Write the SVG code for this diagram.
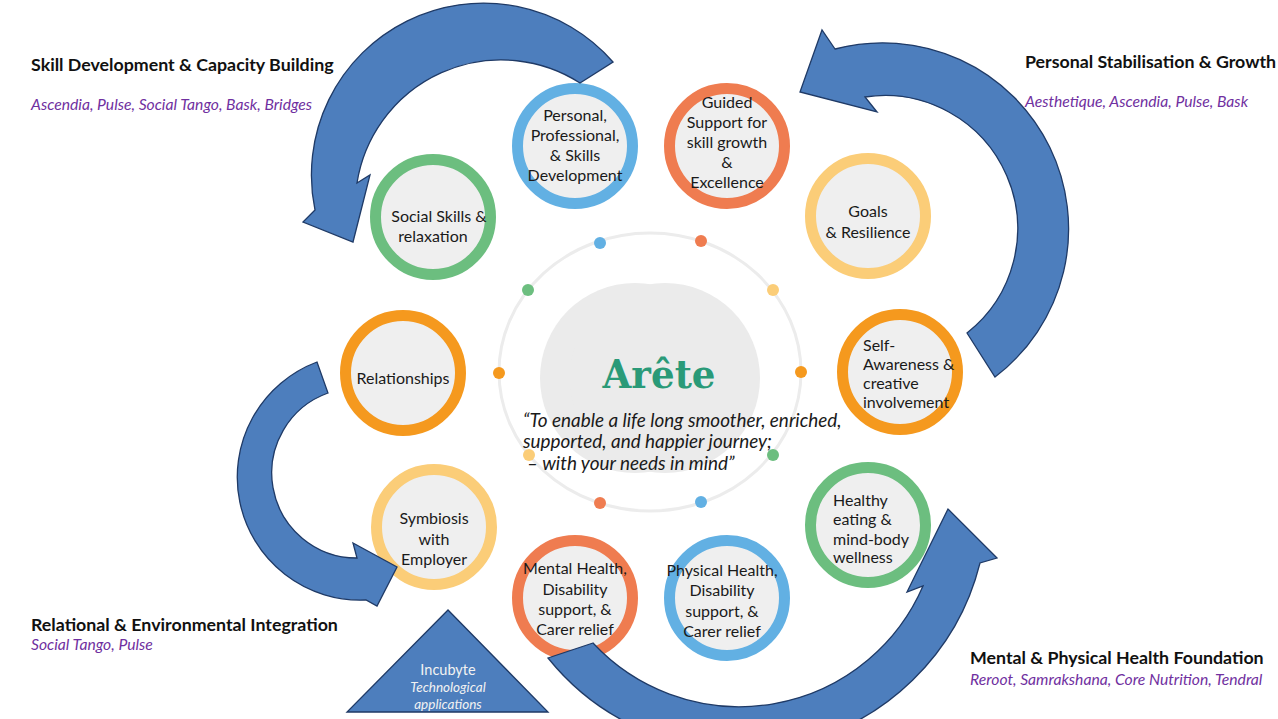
<svg xmlns="http://www.w3.org/2000/svg" width="1278" height="719" viewBox="0 0 1278 719">
<defs>
<style>
.lbl{font-family:Lato,"Open Sans","Liberation Sans",sans-serif;font-size:16px;fill:#1a1a1a;text-anchor:middle}
.lbll{font-family:Lato,"Open Sans","Liberation Sans",sans-serif;font-size:16px;fill:#1a1a1a}
.head{font-family:Lato,"Open Sans","Liberation Sans",sans-serif;font-size:17.8px;font-weight:bold;fill:#111}
.sub{font-family:Lato,"Open Sans","Liberation Sans",sans-serif;font-size:15.7px;font-style:italic;fill:#7030a0}
.quote{font-family:Lato,"Open Sans","Liberation Sans",sans-serif;font-size:18.9px;font-style:italic;fill:#1a1a1a}
.tri{font-family:Lato,"Open Sans","Liberation Sans",sans-serif;fill:#f2f2f2;text-anchor:middle}
.node{fill:#efefef;stroke-width:11}
.blue{stroke:#62b0e3}.red{stroke:#ef7c50}.yel{stroke:#fbcd78}.org{stroke:#f5991e}.grn{stroke:#6cbe7f}
.arrow{fill:#4d7ebd;stroke:#1f3a66;stroke-width:1.3;stroke-linejoin:miter}
</style>
</defs>
<rect width="1278" height="719" fill="#ffffff"/>

<g id="hub">
<ellipse cx="650" cy="372" rx="151" ry="139" fill="none" stroke="#ececec" stroke-width="3"/>
<circle cx="635" cy="378" r="95" fill="#ebebeb"/>
<circle cx="665" cy="378" r="95" fill="#ebebeb"/>
<circle cx="600" cy="243" r="6" fill="#62b0e3"/>
<circle cx="701" cy="241" r="6" fill="#ef7c50"/>
<circle cx="773" cy="290" r="6" fill="#fbcd78"/>
<circle cx="801" cy="372" r="6" fill="#f5991e"/>
<circle cx="773" cy="455" r="6" fill="#6cbe7f"/>
<circle cx="701" cy="502" r="6" fill="#62b0e3"/>
<circle cx="600" cy="503" r="6" fill="#ef7c50"/>
<circle cx="529" cy="455" r="6" fill="#fbcd78"/>
<circle cx="499" cy="373" r="6" fill="#f5991e"/>
<circle cx="528" cy="290" r="6" fill="#6cbe7f"/>
<text x="659" y="388" font-family="'DejaVu Serif','Liberation Serif',serif" font-weight="bold" font-size="40" fill="#2a9a78" text-anchor="middle" textLength="113" lengthAdjust="spacingAndGlyphs">Arête</text>
<text class="quote" x="523" y="427">“To enable a life long smoother, enriched,</text>
<text class="quote" x="523" y="448">supported, and happier journey;</text>
<text class="quote" x="527" y="470"> – with your needs in mind”</text>
</g>

<g id="node-personal">
<circle class="node blue" cx="575" cy="146" r="57.5"/>
<text class="lbl" x="575" y="121">Personal,</text>
<text class="lbl" x="575" y="141">Professional,</text>
<text class="lbl" x="575" y="161">&amp; Skills</text>
<text class="lbl" x="575" y="181">Development</text>
</g>
<g id="node-guided">
<circle class="node red" cx="727" cy="146" r="57.5"/>
<text class="lbl" x="727" y="108">Guided</text>
<text class="lbl" x="727" y="128">Support for</text>
<text class="lbl" x="727" y="148">skill growth</text>
<text class="lbl" x="727" y="168">&amp;</text>
<text class="lbl" x="727" y="188">Excellence</text>
</g>
<g id="node-goals">
<circle class="node yel" cx="868" cy="216" r="57.5"/>
<text class="lbl" x="868" y="217">Goals</text>
<text class="lbl" x="868" y="238">&amp; Resilience</text>
</g>
<g id="node-self">
<circle class="node org" cx="900" cy="372" r="57.5"/>
<text class="lbll" x="863" y="351">Self-</text>
<text class="lbll" x="863" y="370">Awareness &amp;</text>
<text class="lbll" x="863" y="389">creative</text>
<text class="lbll" x="863" y="408">involvement</text>
</g>
<g id="node-healthy">
<circle class="node grn" cx="868" cy="525" r="57.5"/>
<text class="lbll" x="833" y="506">Healthy</text>
<text class="lbll" x="833" y="525">eating &amp;</text>
<text class="lbll" x="833" y="545">mind-body</text>
<text class="lbll" x="833" y="563">wellness</text>
</g>
<g id="node-physical">
<circle class="node blue" cx="727" cy="598" r="57.5"/>
<text class="lbl" x="722" y="576">Physical Health,</text>
<text class="lbl" x="722" y="596">Disability</text>
<text class="lbl" x="722" y="617">support, &amp;</text>
<text class="lbl" x="722" y="637">Carer relief</text>
</g>
<g id="node-mental">
<circle class="node red" cx="575" cy="598" r="57.5"/>
<text class="lbl" x="575" y="574">Mental Health,</text>
<text class="lbl" x="575" y="595">Disability</text>
<text class="lbl" x="575" y="615">support, &amp;</text>
<text class="lbl" x="575" y="635">Carer relief</text>
</g>
<g id="node-symbiosis">
<circle class="node yel" cx="434" cy="527" r="57.5"/>
<text class="lbl" x="434" y="524">Symbiosis</text>
<text class="lbl" x="434" y="545">with</text>
<text class="lbl" x="434" y="565">Employer</text>
</g>
<g id="node-relationships">
<circle class="node org" cx="403" cy="373" r="57.5"/>
<text class="lbl" x="403" y="384">Relationships</text>
</g>
<g id="node-social">
<circle class="node grn" cx="433" cy="217" r="57.5"/>
<text class="lbl" x="439" y="222">Social Skills &amp;</text>
<text class="lbl" x="433" y="242">relaxation</text>
</g>

<g id="connectors">
<path class="arrow" d="M613,62 A172,172 0 0 0 315,210 L303,222 L353,242 L370,175 L357,183 A146,146 0 0 1 580,83 Z"/>
<path class="arrow" d="M835,49 L822,30 L800,92 L877,112 L865,97 A133,133 0 0 1 967,333 L995,377 A186,186 0 0 0 835,49 Z"/>
<path class="arrow" d="M317,362 A123,123 0 0 0 366,600 L377,606 L397,567 L353,543 L357,558 A85,85 0 0 1 328,393 Z"/>
<path class="arrow" d="M593,643 L548,658 A247,247 0 0 0 980,563 L997,558 L948,509 L907,592 L923,586 A200,200 0 0 1 593,643 Z"/>
</g>

<g id="node-incubyte">
<polygon class="arrow" points="448,610 347,712 548,712"/>
<text class="tri" x="448" y="675" font-size="14.5">Incubyte</text>
<text class="tri" x="448" y="692" font-size="13.5" font-style="italic">Technological</text>
<text class="tri" x="448" y="709" font-size="13.5" font-style="italic">applications</text>
</g>

<g id="labels">
<text class="head" x="31" y="71">Skill Development &amp; Capacity Building</text>
<text class="sub" x="31" y="110">Ascendia, Pulse, Social Tango, Bask, Bridges</text>
<text class="head" x="1025" y="68">Personal Stabilisation &amp; Growth</text>
<text class="sub" x="1025" y="107">Aesthetique, Ascendia, Pulse, Bask</text>
<text class="head" x="31" y="631">Relational &amp; Environmental Integration</text>
<text class="sub" x="31" y="650">Social Tango, Pulse</text>
<text class="head" x="970" y="664">Mental &amp; Physical Health Foundation</text>
<text class="sub" x="970" y="685">Reroot, Samrakshana, Core Nutrition, Tendral</text>
</g>
</svg>
